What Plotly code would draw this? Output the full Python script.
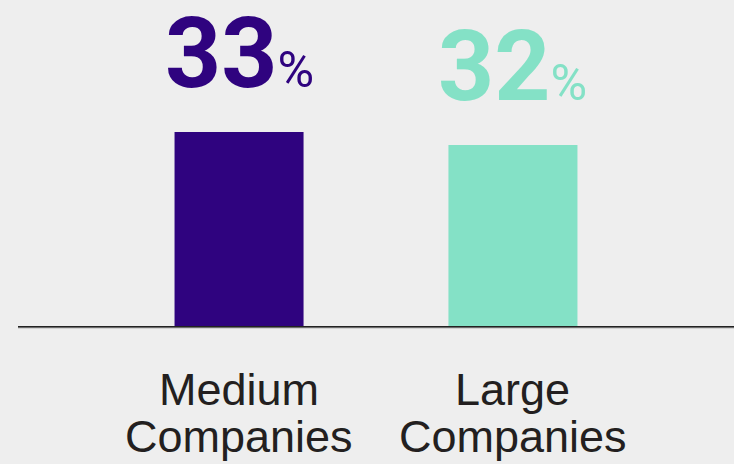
import plotly.graph_objects as go

categories = ["Medium Companies", "Large Companies"]
line1 = ["Medium", "Large"]
line2 = ["Companies", "Companies"]
values = [33, 32]
colors = ["#2F037F", "#84E1C6"]

BG = "#EEEEEE"
TEXT = "#231F20"

fig = go.Figure(
    go.Bar(
        x=categories,
        y=values,
        marker=dict(color=colors, line=dict(width=0)),
        width=0.471,
        hoverinfo="skip",
    )
)

# value labels: large bold number with a smaller percent sign
for cat, val, col in zip(categories, values, colors):
    fig.add_annotation(
        x=cat, y=val, xref="x", yref="y",
        text=f"<b>{val}</b><span style='font-size:50px;font-weight:normal'>%</span>",
        showarrow=False, yanchor="bottom", yshift=19,
        font=dict(family="Roboto", size=98, color=col),
    )

# two-line category labels under the baseline
for cat, a, b in zip(categories, line1, line2):
    fig.add_annotation(x=cat, y=0, xref="x", yref="paper", text=a,
                       showarrow=False, yanchor="top", yshift=-36,
                       font=dict(family="Liberation Sans, Arial", size=45, color=TEXT))
    fig.add_annotation(x=cat, y=0, xref="x", yref="paper", text=b,
                       showarrow=False, yanchor="top", yshift=-83,
                       font=dict(family="Liberation Sans, Arial", size=45, color=TEXT))

# faint shadow line just under the baseline
fig.add_shape(type="line", xref="paper", x0=0, x1=1,
              yref="paper", ysizemode="pixel", yanchor=0, y0=-2, y1=-2,
              line=dict(color="#B5B5B5", width=1))

fig.update_layout(
    width=734, height=464,
    margin=dict(l=18, r=0, t=0, b=138),
    paper_bgcolor=BG, plot_bgcolor=BG,
    showlegend=False,
    xaxis=dict(range=[-0.807, 1.807], showticklabels=False, ticks="",
               showgrid=False, zeroline=False,
               showline=True, linecolor="#222222", linewidth=2),
    yaxis=dict(range=[18.08, 43.15], visible=False, showgrid=False, zeroline=False),
)

fig.write_html("out.html")
